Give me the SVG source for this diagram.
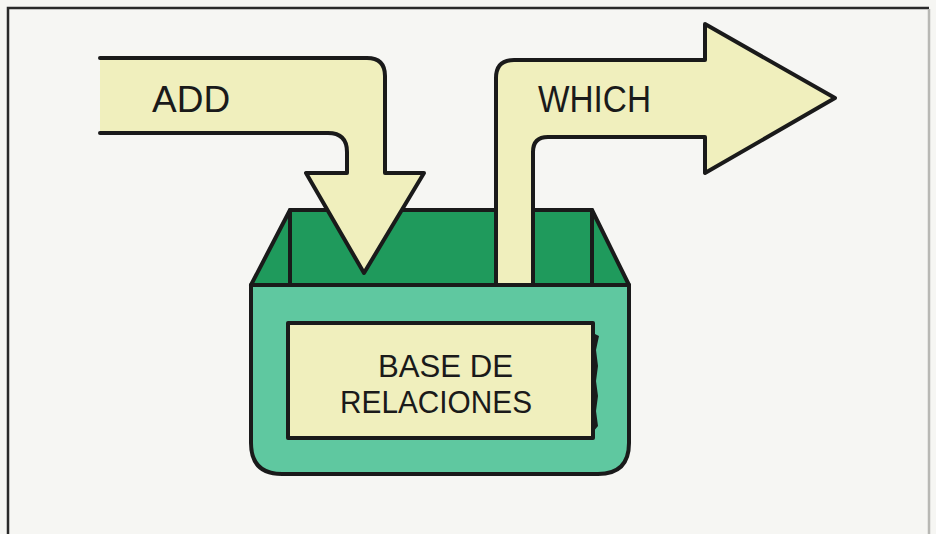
<svg xmlns="http://www.w3.org/2000/svg" width="936" height="534" viewBox="0 0 936 534">
  <defs>
    <style>
      .ink { stroke: #1a1a1a; stroke-width: 4; stroke-linejoin: round; stroke-linecap: round; }
      .cream { fill: #f0efbd; }
      .dark { fill: #1f9a5c; }
      .light { fill: #5fc8a0; }
      .lbl { font-family: "Liberation Sans", Arial, sans-serif; fill: #1a1a1a; }
    </style>
  </defs>
  <rect x="0" y="0" width="936" height="534" fill="#f6f6f3"/>
  <g id="frame" fill="none">
    <path d="M8,534 V8 H929" stroke="#2a2a2a" stroke-width="2.5"/>
    <path d="M929,9 V534" stroke="#b8b8b4" stroke-width="2.5"/>
  </g>

  <g id="box-back">
    <path class="dark ink" d="M290,210 H592 V285 H290 Z"/>
    <path class="dark ink" d="M290,210 L251,285 H290 Z"/>
    <path class="dark ink" d="M592,210 L629,285 H592 Z"/>
  </g>

  <g id="connectors">
    <g id="add-arrow">
      <path class="cream ink" d="M100,58 H367 Q385,58 385,76 V173 H424 L364,273 L306,173 H347 V152 Q347,133 328,133 H100"/>
      <text class="lbl" x="152" y="112" font-size="37">ADD</text>
    </g>
    <g id="which-arrow">
      <path class="cream ink" d="M496,286 V78 Q496,60 514,60 H705 V24 L835,98 L705,173 V137 H548 Q533,137 533,152 V286"/>
      <text class="lbl" x="538" y="112" font-size="37" textLength="113" lengthAdjust="spacingAndGlyphs">WHICH</text>
    </g>
  </g>

  <g id="base-de-relaciones">
    <path class="light ink" d="M251,285 H629 V443 Q629,474 598,474 H282 Q251,474 251,443 Z"/>
    <rect class="cream ink" x="288" y="323" width="305" height="115"/>
    <path fill="#1a1a1a" d="M593,333 L599,336 L596,350 L598,366 L596,381 L598,396 L596,411 L598,426 L593,432 Z"/>
    <text class="lbl" x="445.5" y="377" font-size="32" text-anchor="middle" textLength="135" lengthAdjust="spacingAndGlyphs">BASE DE</text>
    <text class="lbl" x="436" y="413" font-size="32" text-anchor="middle" textLength="192" lengthAdjust="spacingAndGlyphs">RELACIONES</text>
  </g>
</svg>
